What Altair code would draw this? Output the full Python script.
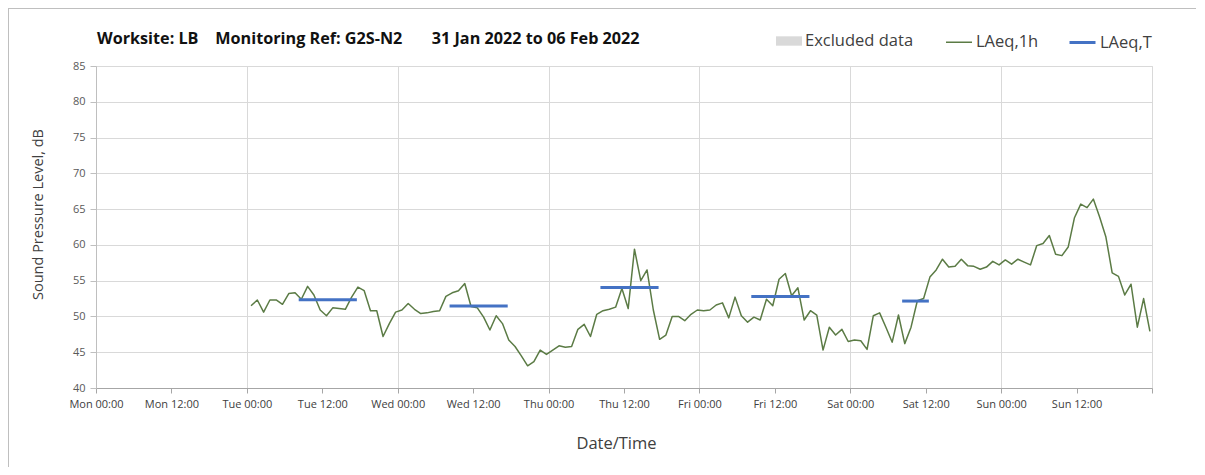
import altair as alt
import pandas as pd

# ---------------- data ----------------
title_text = ("Worksite: LB\u00a0\u00a0\u00a0\u00a0Monitoring Ref: G2S-N2"
              "\u00a0\u00a0\u00a0\u00a0\u00a0\u00a0\u00a031 Jan 2022 to 06 Feb 2022")

series_names = ["LAeq,1h", "LAeq,T"]
excluded_name = ["Excluded data"]

# hourly LAeq,1h values, first value at Tue 01 Feb 2022 00:40
laeq_1h_first = "2022-02-01 00:40"
tue = [51.5, 52.3, 50.6, 52.3, 52.3, 51.7, 53.2, 53.3, 52.4, 54.2, 53.0, 50.9,
       50.1, 51.2, 51.1, 51.0, 52.7, 54.1, 53.6, 50.8, 50.8, 47.2, 49.0, 50.6]
wed = [50.9, 51.8, 51.0, 50.4, 50.5, 50.7, 50.8, 52.8, 53.3, 53.6, 54.6, 51.4,
       51.2, 49.9, 48.1, 50.1, 49.0, 46.7, 45.8, 44.5, 43.1, 43.7, 45.3, 44.7]
thu = [45.3, 45.9, 45.7, 45.8, 48.2, 48.9, 47.2, 50.3, 50.8, 51.0, 51.3, 53.9,
       51.1, 59.4, 55.0, 56.5, 50.9, 46.8, 47.4, 50.0, 50.0, 49.4, 50.3, 50.9]
fri = [50.8, 50.9, 51.6, 51.9, 49.8, 52.7, 50.1, 49.2, 49.9, 49.5, 52.4, 51.5,
       55.2, 56.0, 52.9, 54.0, 49.5, 50.8, 50.2, 45.3, 48.5, 47.4, 48.2, 46.5]
sat = [46.7, 46.6, 45.4, 50.1, 50.5, 48.5, 46.4, 50.2, 46.2, 48.5, 52.2, 52.5,
       55.5, 56.5, 58.0, 56.9, 57.0, 58.0, 57.1, 57.0, 56.6, 56.9, 57.7, 57.2]
sun = [57.9, 57.3, 58.0, 57.6, 57.2, 59.9, 60.2, 61.3, 58.7, 58.5, 59.7, 63.8,
       65.7, 65.2, 66.4, 63.9, 61.1, 56.1, 55.6, 53.0, 54.5, 48.5, 52.5, 47.9]
laeq_1h = tue + wed + thu + fri + sat + sun

# LAeq,T period values
period_start = ["2022-02-01T08:15:00", "2022-02-02T08:15:00", "2022-02-03T08:15:00",
                "2022-02-04T08:15:00", "2022-02-05T08:15:00"]
period_end = ["2022-02-01T17:30:00", "2022-02-02T17:30:00", "2022-02-03T17:30:00",
              "2022-02-04T17:30:00", "2022-02-05T12:30:00"]
laeq_t = [52.35, 51.45, 54.05, 52.8, 52.15]

# excluded periods (none in this week)
excluded_start = []
excluded_end = []

# axis ticks: every 12 h, Mon 31 Jan 00:00 .. Mon 07 Feb 00:00
tick_days = [(1, 31), (2, 1), (2, 2), (2, 3), (2, 4), (2, 5), (2, 6), (2, 7)]
tick_hours = [0, 12]
y_ticks = [40, 45, 50, 55, 60, 65, 70, 75, 80, 85]

# ---------------- tables ----------------
times = pd.date_range(laeq_1h_first, periods=len(laeq_1h), freq="h")
df_line = pd.DataFrame({"time": times.strftime("%Y-%m-%dT%H:%M:%S"),
                        "level": laeq_1h, "series": series_names[0]})
df_t = pd.DataFrame({"start": period_start, "end": period_end,
                     "level": laeq_t, "series": series_names[1]})
df_excl = pd.DataFrame({"start": pd.Series(excluded_start, dtype="object"),
                        "end": pd.Series(excluded_end, dtype="object"),
                        "excl": pd.Series([], dtype="object")})

tick_values = []
for (m, d) in tick_days:
    for h in tick_hours:
        if (m, d) == (2, 7) and h == 12:
            continue
        tick_values.append(alt.DateTime(year=2022, month=m, date=d, hours=h))

FONT = "Open Sans"
W, H = 1056, 322

x_scale = alt.Scale(domain=[alt.DateTime(year=2022, month=1, date=31),
                            alt.DateTime(year=2022, month=2, date=7)])
y_scale = alt.Scale(domain=[40, 85], nice=False)

x_axis = alt.Axis(
    values=tick_values,
    labelExpr="date(datum.value) == 7 ? '' : timeFormat(datum.value, '%a %H:%M')",
    grid=True, gridColor="#D9D9D9",
    gridOpacity={"condition": {"test": "hours(datum.value) == 12", "value": 0}, "value": 1},
    domainColor="#A6A6A6", tickColor="#A6A6A6", tickSize=5,
    labelFont=FONT, labelFontSize=11, labelColor="#404040", labelPadding=5,
    labelFlush=False, labelOverlap=False,
    title="Date/Time", titleFont=FONT, titleFontSize=16.5, titleFontWeight="normal",
    titleColor="#404040", titleX=520, titleY=55, titleBaseline="middle",
)
y_axis = alt.Axis(
    values=y_ticks, grid=True, gridColor="#D9D9D9",
    domainColor="#BFBFBF", tickColor="#BFBFBF", tickSize=6,
    labelFont=FONT, labelFontSize=11, labelColor="#595959", labelPadding=5,
    title="Sound Pressure Level, dB", titleFont=FONT, titleFontSize=14.5,
    titleFontWeight="normal", titleColor="#404040",
    titleX=-58, titleY=148, titleBaseline="middle",
)

line_legend = alt.Legend(
    orient="none", legendX=849, legendY=-38, direction="horizontal", title=None,
    symbolType="stroke", symbolSize=676, labelFont=FONT, labelFontSize=16.5,
    labelColor="#404040", labelOffset=3, columnPadding=24,
)
color_enc = alt.Color("series:N", scale=alt.Scale(domain=series_names,
                                                  range=["#5B7B45", "#4472C4"]),
                      legend=line_legend)
width_enc = alt.StrokeWidth("series:N", scale=alt.Scale(domain=series_names,
                                                        range=[1.5, 3], padding=0),
                            legend=line_legend)

excl_layer = alt.Chart(df_excl).mark_rect().encode(
    x=alt.X("start:T", scale=x_scale, axis=x_axis),
    x2="end:T",
    y=alt.value(0), y2=alt.value(H),
    fill=alt.Fill("excl:N", scale=alt.Scale(domain=excluded_name, range=["#D9D9D9"]),
                  legend=alt.Legend(orient="none", legendX=680, legendY=-38,
                                    direction="horizontal", title=None,
                                    symbolType="M-1,-0.36H1V0.36H-1Z", symbolSize=676,
                                    symbolStrokeWidth=0, labelFont=FONT,
                                    labelFontSize=16.5, labelColor="#404040",
                                    labelOffset=3)),
)

line_layer = alt.Chart(df_line).mark_line(strokeJoin="round").encode(
    x=alt.X("time:T", scale=x_scale, axis=x_axis),
    y=alt.Y("level:Q", scale=y_scale, axis=y_axis),
    color=color_enc, strokeWidth=width_enc,
)

t_layer = alt.Chart(df_t).mark_rule(strokeCap="butt").encode(
    x=alt.X("start:T", scale=x_scale, axis=x_axis),
    x2="end:T",
    y=alt.Y("level:Q", scale=y_scale, axis=y_axis),
    color=color_enc, strokeWidth=width_enc,
)

one = pd.DataFrame({"t": [title_text]})
title_layer = alt.Chart(one).mark_text(
    align="left", baseline="middle", font=FONT, fontSize=16.2, fontWeight="bold",
    color="#111111").encode(x=alt.value(1), y=alt.value(-27), text="t:N")

border_top = alt.Chart(one).mark_rule(color="#BFBFBF", strokeWidth=1).encode(
    x=alt.value(-88), x2=alt.value(W + 44), y=alt.value(-57.5))
border_left = alt.Chart(one).mark_rule(color="#BFBFBF", strokeWidth=1).encode(
    x=alt.value(-87.5), y=alt.value(-58), y2=alt.value(H + 79))

chart = alt.layer(
    excl_layer, line_layer, t_layer, title_layer, border_top, border_left
).properties(
    width=W, height=H,
    autosize=alt.AutoSizeParams(type="none"),
    padding={"left": 88, "top": 58, "right": 45, "bottom": 79},
).configure_view(strokeOpacity=0).configure(background="white")

chart.save("out.html", embed_options={"renderer": "svg", "actions": False})
